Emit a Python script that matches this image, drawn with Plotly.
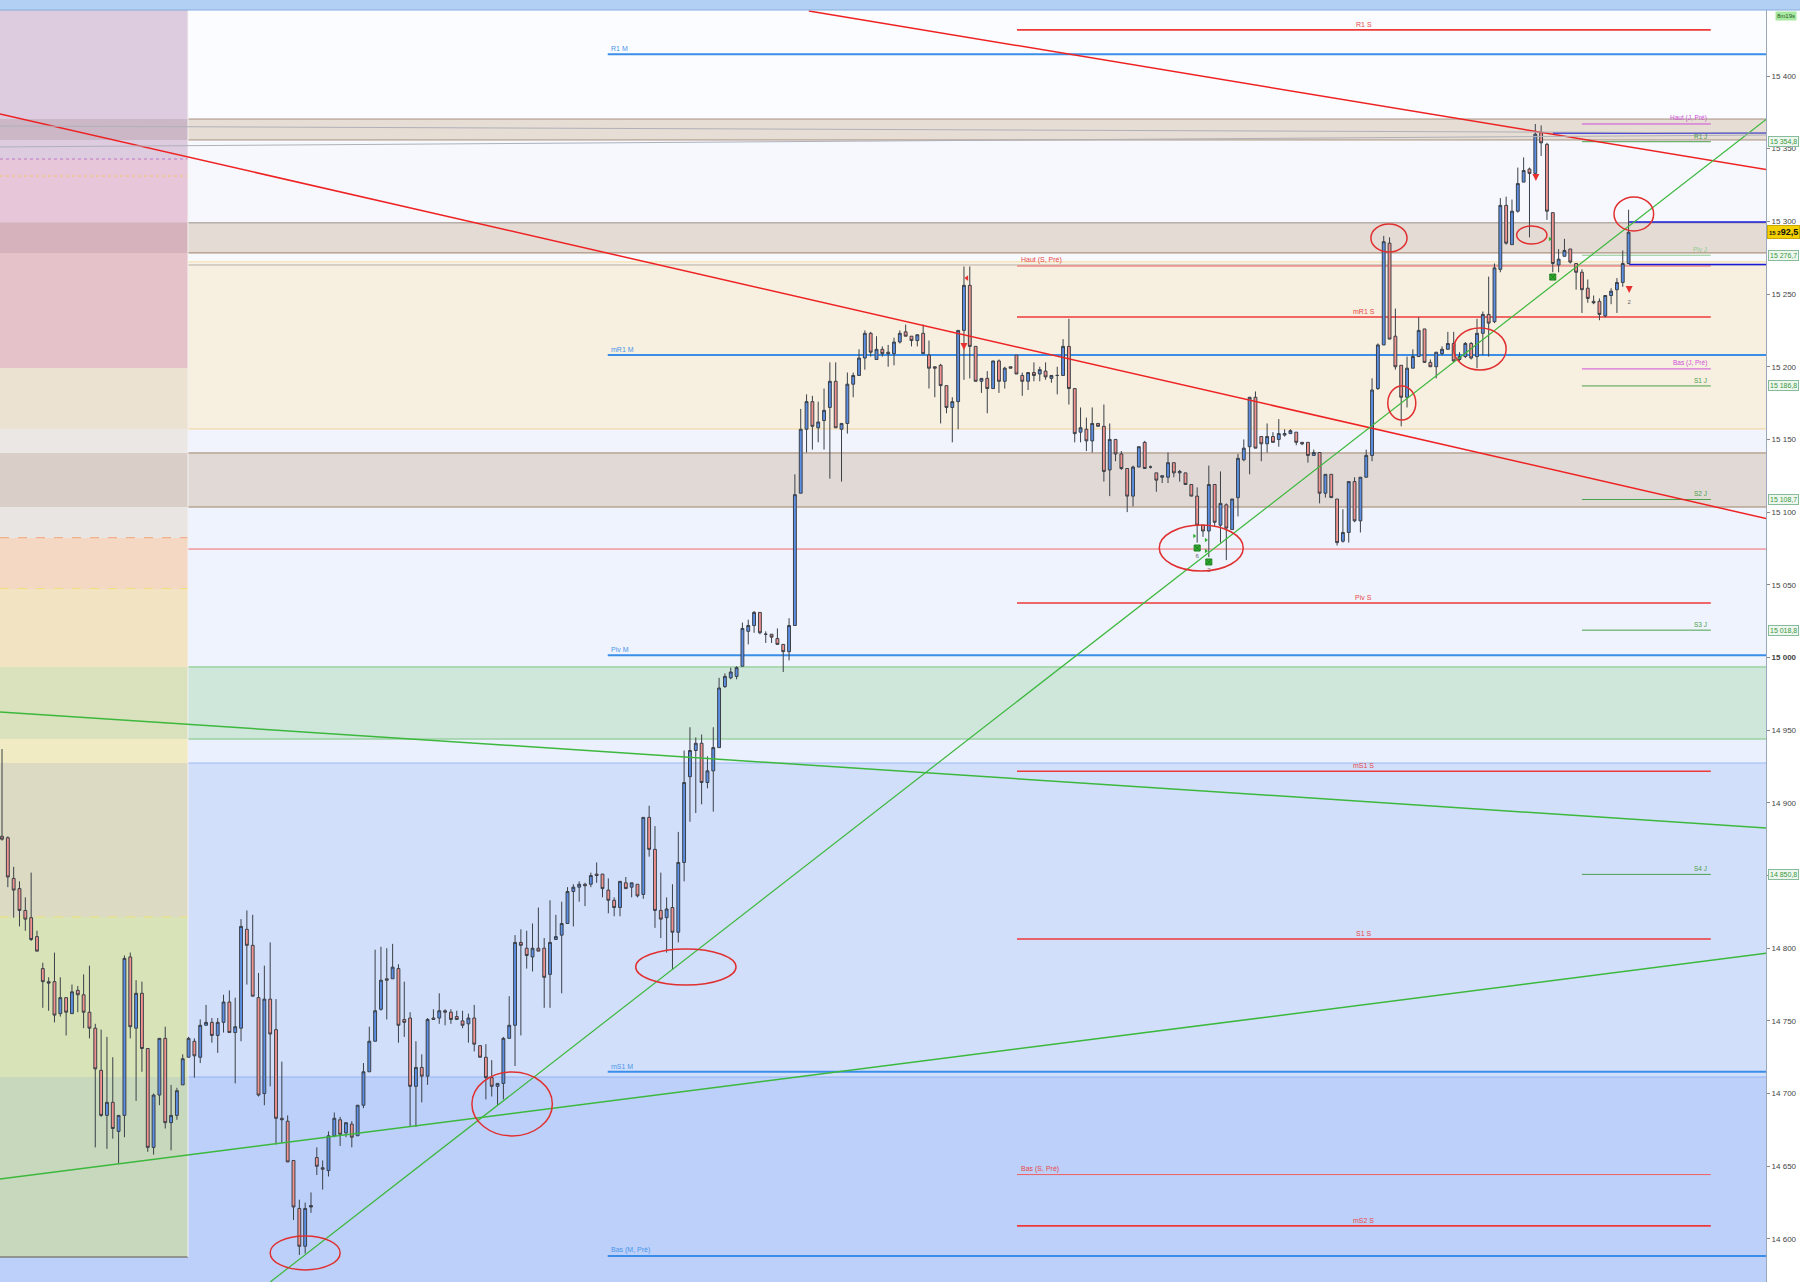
import plotly.graph_objects as go

# ---------------- candle data (bar index 0..279) ----------------
opens = [
14877,14876,14848,14841,14826,14821,14808,14786,14777,14777,
14755,14766,14755,14771,14768,14756,14745,14716,14685,14694,
14674,14685,14794,14745,14769,14731,14663,14699,14738,14680,
14685,14706,14725,14736,14725,14747,14749,14740,14749,14763,
14742,14745,14813,14802,14766,14700,14765,14744,14683,14681,
14654,14621,14595,14623,14656,14649,14647,14671,14682,14673,
14679,14671,14692,14715,14736,14758,14779,14779,14786,14751,
14752,14705,14718,14712,14752,14752,14757,14756,14753,14750,
14748,14752,14733,14725,14711,14705,14707,14738,14747,14804,
14800,14794,14800,14800,14782,14806,14809,14817,14839,14842,
14844,14844,14851,14851,14840,14833,14828,14845,14842,14844,
14837,14890,14868,14826,14821,14828,14811,14859,14918,14936,
14941,14914,14922,14938,14980,14986,14987,14994,15018,15022,
15031,15016,15016,15013,15009,15004,15022,15113,15157,15176,
15158,15163,15172,15190,15157,15161,15188,15194,15206,15223,
15205,15212,15210,15209,15217,15224,15221,15218,15223,15208,
15200,15201,15187,15172,15176,15225,15256,15214,15190,15192,
15185,15204,15190,15200,15208,15194,15190,15196,15195,15197,
15192,15194,15194,15214,15185,15155,15157,15149,15161,15159,
15129,15150,15140,15130,15111,15131,15148,15131,15127,15124,
15124,15134,15127,15127,15119,15111,15091,15087,15119,15091,
15105,15088,15110,15136,15145,15179,15152,15147,15152,15150,
15153,15154,15155,15148,15148,15139,15141,15113,15126,15109,
15080,15086,15121,15094,15124,15139,15185,15215,15285,15221,
15201,15179,15199,15207,15226,15203,15200,15209,15212,15216,
15205,15207,15216,15207,15223,15236,15231,15267,15311,15284,
15307,15327,15336,15333,15361,15353,15306,15270,15276,15281,
15271,15265,15254,15245,15245,15235,15249,15253,15258,15271]
highs = [
14937,14877,14856,14846,14835,14852,14812,14790,14780,14797,
14780,14766,14775,14774,14782,14788,14748,14744,14739,14725,
14685,14795,14797,14778,14777,14731,14700,14738,14746,14706,
14704,14727,14739,14738,14751,14761,14752,14752,14768,14771,
14766,14820,14826,14823,14783,14788,14804,14765,14722,14685,
14654,14627,14625,14632,14663,14654,14674,14687,14684,14680,
14681,14692,14721,14746,14799,14801,14800,14803,14789,14777,
14756,14736,14727,14752,14758,14769,14758,14758,14757,14757,
14755,14761,14733,14734,14723,14707,14739,14767,14809,14813,
14812,14817,14828,14807,14833,14823,14832,14842,14844,14846,
14845,14852,14859,14851,14848,14835,14846,14849,14845,14844,
14890,14898,14884,14852,14835,14844,14880,14936,14952,14945,
14947,14932,14952,14986,14989,14993,14994,15024,15026,15032,
15031,15018,15016,15020,15009,15027,15126,15171,15181,15180,
15176,15185,15203,15203,15161,15196,15196,15212,15225,15224,
15221,15214,15215,15220,15225,15229,15221,15222,15229,15218,
15200,15202,15187,15179,15225,15269,15269,15214,15192,15197,
15204,15205,15200,15200,15208,15196,15196,15203,15200,15203,
15194,15200,15219,15233,15185,15172,15165,15172,15161,15174,
15161,15150,15142,15130,15132,15145,15149,15132,15127,15125,
15141,15134,15129,15127,15119,15117,15091,15132,15119,15128,
15106,15109,15140,15150,15179,15183,15152,15161,15155,15164,
15157,15157,15155,15148,15148,15143,15141,15126,15126,15109,
15102,15121,15124,15124,15143,15192,15216,15290,15289,15240,
15201,15207,15212,15234,15226,15205,15210,15214,15224,15224,
15210,15217,15217,15233,15238,15262,15271,15316,15317,15315,
15337,15344,15337,15367,15366,15354,15306,15281,15288,15281,
15271,15267,15260,15249,15247,15249,15254,15261,15280,15308]
lows = [
14874,14842,14821,14815,14812,14805,14798,14759,14757,14749,
14753,14740,14755,14756,14745,14738,14663,14684,14662,14669,
14652,14670,14738,14695,14715,14660,14658,14692,14676,14661,
14682,14706,14725,14711,14721,14747,14735,14728,14742,14742,
14707,14736,14775,14767,14698,14692,14705,14665,14666,14653,
14613,14589,14590,14618,14644,14634,14643,14670,14664,14670,
14663,14671,14690,14715,14736,14757,14751,14779,14735,14739,
14677,14677,14694,14706,14751,14748,14747,14748,14751,14745,
14735,14729,14725,14696,14698,14692,14696,14738,14719,14740,
14786,14784,14798,14759,14759,14806,14769,14817,14815,14832,
14829,14842,14845,14835,14824,14822,14822,14841,14835,14835,
14834,14863,14814,14807,14797,14785,14804,14846,14887,14893,
14899,14910,14894,14938,14979,14985,14985,14994,15009,15017,
15016,15010,15010,15009,14990,14998,15022,15113,15141,15143,
15148,15143,15123,15158,15121,15154,15179,15194,15198,15207,
15205,15207,15200,15201,15216,15221,15214,15214,15209,15185,
15179,15161,15168,15148,15157,15191,15192,15190,15182,15168,
15185,15182,15185,15199,15195,15180,15184,15190,15190,15191,
15189,15181,15194,15174,15148,15148,15142,15141,15159,15121,
15111,15135,15129,15100,15104,15131,15130,15130,15114,15120,
15120,15124,15121,15119,15111,15079,15083,15069,15090,15079,
15067,15088,15097,15135,15126,15144,15135,15141,15148,15145,
15152,15154,15146,15146,15134,15139,15106,15110,15110,15077,
15079,15079,15093,15086,15124,15135,15184,15215,15219,15198,
15159,15172,15199,15207,15203,15200,15192,15208,15212,15203,
15204,15206,15205,15199,15208,15207,15230,15265,15284,15284,
15306,15327,15289,15333,15345,15301,15265,15265,15276,15271,
15253,15237,15244,15243,15232,15234,15243,15237,15255,15271]
closes = [
14875,14849,14840,14826,14820,14806,14798,14777,14776,14754,
14766,14756,14770,14768,14756,14745,14717,14685,14694,14676,
14685,14793,14746,14769,14731,14663,14699,14738,14680,14685,
14702,14724,14738,14726,14747,14749,14740,14749,14763,14742,
14746,14815,14802,14767,14699,14765,14741,14683,14682,14653,
14622,14595,14621,14622,14650,14648,14671,14683,14672,14680,
14670,14692,14715,14736,14757,14778,14778,14787,14747,14749,
14705,14718,14712,14751,14751,14757,14756,14751,14751,14747,
14752,14734,14725,14711,14705,14707,14738,14747,14804,14802,
14795,14800,14798,14780,14804,14808,14817,14839,14842,14844,
14843,14850,14850,14841,14833,14828,14846,14841,14845,14836,
14890,14868,14826,14820,14827,14811,14859,14914,14936,14941,
14914,14922,14938,14979,14987,14990,14993,15020,15022,15031,
15017,15016,15014,15009,15004,15022,15112,15157,15176,15159,
15162,15170,15190,15158,15161,15188,15194,15206,15223,15210,
15212,15209,15209,15217,15223,15221,15218,15222,15209,15199,
15199,15187,15172,15176,15225,15256,15214,15190,15192,15185,
15204,15190,15199,15199,15195,15190,15196,15194,15198,15193,
15194,15194,15214,15185,15154,15158,15149,15161,15159,15128,
15150,15140,15130,15111,15131,15145,15130,15131,15122,15125,
15134,15127,15128,15119,15111,15091,15087,15119,15093,15106,
15089,15109,15137,15144,15179,15144,15147,15152,15148,15154,
15154,15156,15148,15147,15139,15141,15113,15126,15110,15079,
15086,15121,15094,15124,15139,15184,15215,15286,15219,15200,
15179,15199,15207,15225,15203,15200,15210,15212,15216,15204,
15207,15216,15206,15223,15236,15230,15268,15311,15285,15307,
15326,15335,15333,15360,15354,15307,15271,15274,15280,15272,
15265,15253,15247,15244,15236,15249,15252,15258,15271,15292.5]
bars = list(range(len(opens)))

# ---------------- axes ----------------
Y_MIN, Y_MAX = 14570.4, 15445.4
X_MIN, X_MAX = -0.343, 302.57
PANEL_END = 31.9
tick_vals = [14600, 14650, 14700, 14750, 14800, 14850, 14900, 14950, 15000,
             15050, 15100, 15150, 15200, 15250, 15300, 15350, 15400]
tick_text = ["14 600", "14 650", "14 700", "14 750", "14 800", "14 850", "14 900",
             "14 950", "<b>15 000</b>", "15 050", "15 100", "15 150", "15 200",
             "15 250", "15 300", "15 350", "15 400"]

# ---------------- zones ----------------
zone_lo = [15370.4, 15356.0, 15299.0, 15278.3, 15271.0, 15157.2, 15140.7, 15103.5,
           14993.5, 14943.9, 14927.4, 14711.4, 14570.4]
zone_hi = [15445.4, 15370.4, 15356.0, 15299.0, 15278.3, 15271.0, 15157.2, 15140.7,
           15103.5, 14993.5, 14943.9, 14927.4, 14711.4]
zone_col = ['#fbfcff', '#e6ddd5', '#f6f8fe', '#e4dbd5', '#f8f9fd', '#f7efe0', '#f1f4fd',
            '#e1d9d6', '#eff3fd', '#cfe6db', '#eaf0fd', '#d2dffb', '#bcd0fa']

panel_lo = [15370.4, 15356.0, 15342.9, 15299.0, 15278.3, 15199.2, 15157.2, 15140.7,
            15103.5, 15082.2, 15047.1, 14993.5, 14943.9, 14927.4, 14821.5, 14711.4, 14587.6]
panel_hi = [15445.4, 15370.4, 15356.0, 15342.9, 15299.0, 15278.3, 15199.2, 15157.2,
            15140.7, 15103.5, 15082.2, 15047.1, 14993.5, 14943.9, 14927.4, 14821.5, 14711.4]
panel_col = ['#ddcbdf', '#cbb7c6', '#ddcbdf', '#e8c6d9', '#d6b3bc', '#e5c2ca', '#ece2d2',
             '#ebe7e5', '#d9cec8', '#e8e5e3', '#f4d8c3', '#f2e4c3', '#d9e1bd', '#f0ebc2',
             '#dcdac2', '#d8e3b8', '#c8d8bd']

border_y = [15370.4, 15356.0, 15299.0, 15278.3, 15272.1, 15270.0, 15157.2, 15140.7,
            15103.5, 14993.5, 14943.9, 14927.4, 14711.4, 15074.6]
border_col = ['#a89080', '#a89080', '#9c9088', '#a08064', '#f8d890', '#b8b0a8', '#f5d49a',
              '#a08468', '#a08468', '#7cc47c', '#7cc47c', '#9cb8f0', '#94b2f0', '#f06a6a']

panel_dot_y = [15342.9, 15331.2, 15082.4, 15047.4, 14821.5]
panel_dot_col = ['#b878c8', '#f2c66a', '#f4a478', '#f0e07a', '#eee27a']
panel_dot_dash = ['dot', 'dot', 'dash', 'dash', 'dash']

# ---------------- levels ----------------
m_names = ["R1 M", "mR1 M", "Piv M", "mS1 M", "Bas (M, Pré)"]
m_vals = [15415.0, 15208.1, 15001.5, 14715.0, 14588.3]
M_START = 103.9

s_names = ["R1 S", "Haut (S, Pré)", "mR1 S", "Piv S", "mS1 S", "S1 S", "Bas (S, Pré)", "mS2 S"]
s_vals = [15431.7, 15269.3, 15234.2, 15037.5, 14921.7, 14806.3, 14644.3, 14609.0]
s_thin = [False, True, False, False, False, False, True, False]
S_START, S_END = 174.1, 293.1

j_names = ["Haut (J, Pré)", "R1 J", "Piv J", "Bas (J, Pré)", "S1 J", "S2 J", "S3 J", "S4 J"]
j_vals = [15367.0, 15354.8, 15276.7, 15198.5, 15186.8, 15108.7, 15018.8, 14850.8]
j_col = ['#d050d8', '#4aa04a', '#8fcc8f', '#d050d8', '#4aa04a', '#4aa04a', '#4aa04a', '#4aa04a']
J_START, J_END = 271.0, 293.1

box_vals = [15354.8, 15276.7, 15186.8, 15108.7, 15018.8, 14850.8]
box_text = ["15 354,8", "15 276,7", "15 186,8", "15 108,7", "15 018,8", "14 850,8"]

blue_vals = [15360.8, 15299.6, 15270.3]
blue_start = [266.0, 279.1, 279.1]

# trend lines: (x0, y0, x1, y1) in bar/price units
trend_x0 = [138.4, -0.34, 46.0, -0.34, -0.34, -0.34, -0.34]
trend_y0 = [15444.7, 15373.9, 14570.4, 14962.5, 14641.3, 15365.6, 15351.2]
trend_x1 = [302.9, 302.9, 302.9, 302.9, 302.9, 302.6, 302.6]
trend_y1 = [15335.4, 15095.3, 15371.1, 14882.7, 14796.7, 15360.8, 15359.4]
trend_col = ['#ee2222', '#ee2222', '#3cb83c', '#3cb83c', '#3cb83c', '#b0b0b8', '#b0b0b8']
trend_w = [1.5, 1.5, 1.2, 1.5, 1.5, 1.0, 1.0]

# highlight ellipses: centre bar, centre price, half width (bars), half height (points)
ell_x = [52.0, 87.5, 117.3, 205.7, 237.9, 240.1, 253.5, 262.4, 279.9]
ell_y = [14590.4, 14692.9, 14787.1, 15075.3, 15288.6, 15175.1, 15212.2, 15290.6, 15305.1]
ell_w = [6.0, 6.9, 8.6, 7.2, 3.1, 2.4, 4.5, 2.6, 3.4]
ell_h = [11.7, 22.0, 12.4, 15.8, 9.6, 11.7, 14.4, 6.2, 11.7]

# signal markers
red_arrow_x = [165.0, 263.1, 279.1]
red_arrow_y = [15211.5, 15327.8, 15250.7]
red_tri_x = [165.5]
red_tri_y = [15261.0]
green_sq_x = [266.0, 205.0, 207.0]
green_sq_y = [15261.7, 15075.3, 15065.7]
green_tri_x = [265.5, 204.5, 206.5, 206.5]
green_tri_y = [15287.9, 15083.6, 15080.8, 15073.3]
sig_text = ["6", "2", "2"]
sig_x = [205.0, 207.0, 279.1]
sig_y = [15069.5, 15060.0, 15244.5]

FONT = "Liberation Sans, Arial, sans-serif"

fig = go.Figure()
shapes = []
annotations = []

for lo, hi, c in zip(zone_lo, zone_hi, zone_col):
    shapes.append(dict(type='rect', xref='paper', yref='y', x0=0, x1=1, y0=lo, y1=hi,
                       fillcolor=c, line=dict(width=0), layer='below'))
for lo, hi, c in zip(panel_lo, panel_hi, panel_col):
    shapes.append(dict(type='rect', xref='x', yref='y', x0=X_MIN, x1=PANEL_END, y0=lo, y1=hi,
                       fillcolor=c, line=dict(width=0), layer='below'))
for yv, c in zip(border_y, border_col):
    shapes.append(dict(type='line', xref='paper', yref='y', x0=0, x1=1, y0=yv, y1=yv,
                       line=dict(color=c, width=1), layer='below'))
for yv, c, d in zip(panel_dot_y, panel_dot_col, panel_dot_dash):
    shapes.append(dict(type='line', xref='x', yref='y', x0=X_MIN, x1=PANEL_END, y0=yv, y1=yv,
                       line=dict(color=c, width=1, dash=d), layer='below'))
# left panel edges
shapes.append(dict(type='line', xref='x', yref='y', x0=X_MIN, x1=PANEL_END, y0=14587.6, y1=14587.6,
                   line=dict(color='#7f8078', width=1.5), layer='below'))
shapes.append(dict(type='line', xref='x', yref='y', x0=PANEL_END, x1=PANEL_END, y0=14587.6, y1=Y_MAX,
                   line=dict(color='#f4f0f0', width=1), layer='below'))

# monthly levels
for n, v in zip(m_names, m_vals):
    shapes.append(dict(type='line', xref='x', yref='y', x0=M_START, x1=X_MAX, y0=v, y1=v,
                       line=dict(color='#3a8ee8', width=2), layer='below'))
    annotations.append(dict(x=M_START + 0.3, y=v, xref='x', yref='y', text=n, showarrow=False,
                            xanchor='left', yanchor='bottom', yshift=0,
                            font=dict(size=7, color='#4a96ea', family=FONT)))
# weekly levels
S_MID = (S_START + S_END) / 2
for n, v, thin in zip(s_names, s_vals, s_thin):
    shapes.append(dict(type='line', xref='x', yref='y', x0=S_START, x1=S_END, y0=v, y1=v,
                       line=dict(color='#ee3a3a' if not thin else '#f06060', width=1 if thin else 1.6),
                       layer='below'))
    if thin:
        annotations.append(dict(x=S_START + 0.3, y=v, xref='x', yref='y', text=n, showarrow=False,
                                xanchor='left', yanchor='bottom',
                                font=dict(size=7, color='#e84848', family=FONT)))
    else:
        annotations.append(dict(x=S_MID, y=v, xref='x', yref='y', text=n, showarrow=False,
                                xanchor='center', yanchor='bottom',
                                font=dict(size=7, color='#e84848', family=FONT)))
# daily levels
for n, v, c in zip(j_names, j_vals, j_col):
    shapes.append(dict(type='line', xref='x', yref='y', x0=J_START, x1=J_END, y0=v, y1=v,
                       line=dict(color=c, width=1), layer='below'))
    annotations.append(dict(x=J_END - 0.3, y=v, xref='x', yref='y', text=n, showarrow=False,
                            xanchor='right', yanchor='bottom',
                            font=dict(size=6.5, color=c, family=FONT)))
# dark blue session lines
for v, x0 in zip(blue_vals, blue_start):
    shapes.append(dict(type='line', xref='x', yref='y', x0=x0, x1=X_MAX, y0=v, y1=v,
                       line=dict(color='#1a1ad8', width=1.5), layer='below'))

# candles
fig.add_trace(go.Candlestick(
    x=bars, open=opens, high=highs, low=lows, close=closes,
    increasing=dict(fillcolor='#5b8fe6', line=dict(color='#3b4048', width=1)),
    decreasing=dict(fillcolor='#f2928e', line=dict(color='#3b4048', width=1)),
    whiskerwidth=0, hoverinfo='skip', showlegend=False))

# trend lines
for x0, y0, x1, y1, c, w in zip(trend_x0, trend_y0, trend_x1, trend_y1, trend_col, trend_w):
    fig.add_trace(go.Scatter(x=[x0, x1], y=[y0, y1], mode='lines',
                             line=dict(color=c, width=w), hoverinfo='skip', showlegend=False))

# markers
fig.add_trace(go.Scatter(x=red_arrow_x, y=red_arrow_y, mode='markers',
                         marker=dict(symbol='arrow-down', size=7, color='#e83030'),
                         hoverinfo='skip', showlegend=False))
fig.add_trace(go.Scatter(x=red_tri_x, y=red_tri_y, mode='markers',
                         marker=dict(symbol='triangle-left', size=5, color='#e83030'),
                         hoverinfo='skip', showlegend=False))
fig.add_trace(go.Scatter(x=green_sq_x, y=green_sq_y, mode='markers',
                         marker=dict(symbol='square-x', size=6, color='#30b030',
                                     line=dict(color='#208020', width=1)),
                         hoverinfo='skip', showlegend=False))
fig.add_trace(go.Scatter(x=green_tri_x, y=green_tri_y, mode='markers',
                         marker=dict(symbol='triangle-right', size=4, color='#30b030'),
                         hoverinfo='skip', showlegend=False))
fig.add_trace(go.Scatter(x=sig_x, y=sig_y, mode='text', text=sig_text,
                         textfont=dict(size=6, color='#666', family=FONT),
                         hoverinfo='skip', showlegend=False))

# ellipses
for cx, cy, w, h in zip(ell_x, ell_y, ell_w, ell_h):
    shapes.append(dict(type='circle', xref='x', yref='y', x0=cx - w, x1=cx + w,
                       y0=cy - h, y1=cy + h, line=dict(color='#e03030', width=1.5), layer='above'))

# title bar
shapes.append(dict(type='rect', xref='paper', yref='paper', x0=0, x1=1.0193, y0=1.0, y1=1.0079,
                   fillcolor='#b2d0f4', line=dict(width=0), layer='above'))
shapes.append(dict(type='line', xref='paper', yref='paper', x0=0, x1=1.0193, y0=1.0, y1=1.0,
                   line=dict(color='#86acdc', width=1), layer='above'))

# axis boxes
for v, t in zip(box_vals, box_text):
    annotations.append(dict(xref='paper', x=1, xanchor='left', xshift=2, yref='y', y=v,
                            text=t, showarrow=False,
                            font=dict(size=7, color='#3a9a3a', family=FONT),
                            bgcolor='#eef6f0', bordercolor='#88bb99', borderwidth=1, borderpad=1))
annotations.append(dict(xref='paper', x=1, xanchor='left', xshift=1, yref='y', y=closes[-1],
                        text="<b>15 2<span style='font-size:9px'>92,5</span></b>", showarrow=False,
                        font=dict(size=6, color='#111', family=FONT),
                        bgcolor='#f4d000', bordercolor='#c9a800', borderwidth=1, borderpad=1))
annotations.append(dict(xref='paper', x=1, xanchor='left', xshift=9, yref='paper', y=1,
                        yanchor='top', yshift=-1, text="8m19s", showarrow=False,
                        font=dict(size=6, color='#225522', family=FONT),
                        bgcolor='#a8e8a0', borderpad=1))

fig.update_layout(
    width=1800, height=1282, autosize=False,
    margin=dict(l=0, r=34, t=10, b=0),
    paper_bgcolor='#ffffff', plot_bgcolor='#f1f5fe',
    shapes=shapes, annotations=annotations, showlegend=False, hovermode=False,
    font=dict(family=FONT),
    xaxis=dict(range=[X_MIN, X_MAX], visible=False, showgrid=False, zeroline=False,
               rangeslider=dict(visible=False), fixedrange=True),
    yaxis=dict(range=[Y_MIN, Y_MAX], side='right', tickvals=tick_vals, ticktext=tick_text,
               showgrid=False, zeroline=False, ticks='outside', ticklen=3, tickcolor='#888',
               tickfont=dict(size=8, color='#444', family=FONT),
               showline=True, linecolor='#9aa8bc', linewidth=1, fixedrange=True),
)

fig.write_html("out.html", config={'displayModeBar': False},
               post_script="document.body.style.margin='0';document.body.style.overflow='hidden';")
